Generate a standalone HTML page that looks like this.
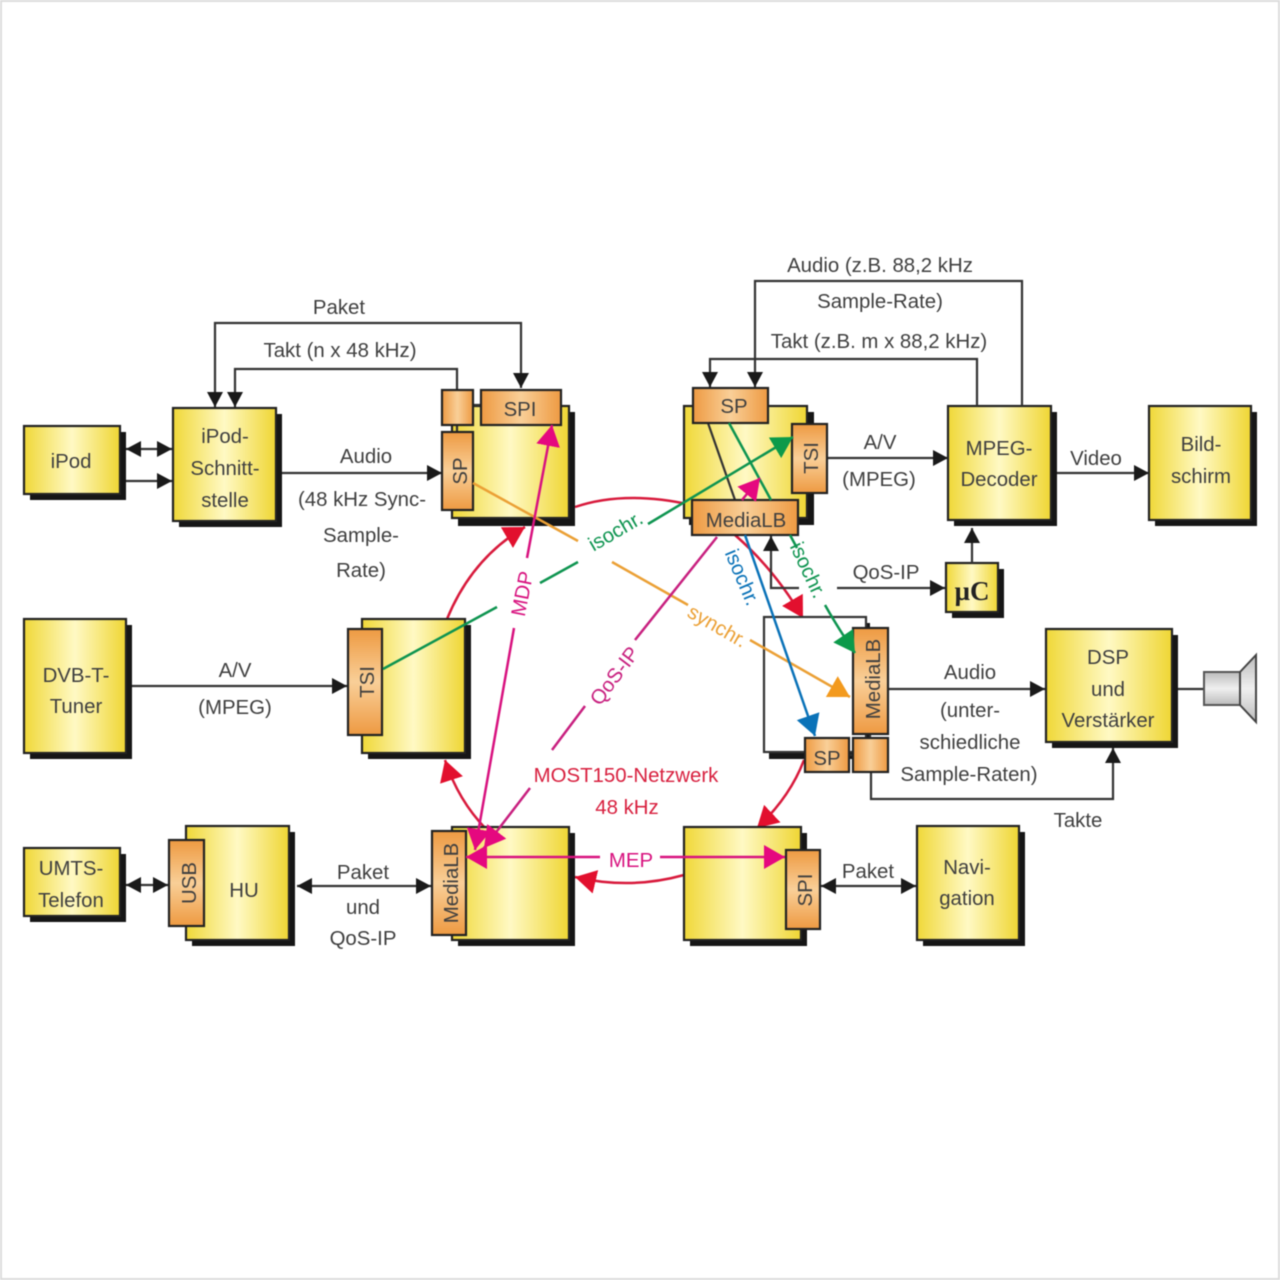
<!DOCTYPE html>
<html><head><meta charset="utf-8"><style>
html,body{margin:0;padding:0;background:#fff}
svg{display:block;filter:blur(.45px)}
text{font-family:"Liberation Sans",sans-serif;font-size:20.4px;fill:#3f3f3f;text-anchor:middle}
.b{stroke:#222;stroke-width:2.2}
.s{fill:#161616}
.l{fill:none;stroke:#333;stroke-width:2.2}
.c{fill:none;stroke-width:2.5}
</style></head><body>
<svg width="1280" height="1280" viewBox="0 0 1280 1280" xmlns="http://www.w3.org/2000/svg">
<defs>
<linearGradient id="y"><stop offset="0" stop-color="#f0d838"/><stop offset=".5" stop-color="#fff9c4"/><stop offset="1" stop-color="#efd633"/></linearGradient>
<linearGradient id="o"><stop offset="0" stop-color="#ee9a42"/><stop offset=".5" stop-color="#f9cf98"/><stop offset="1" stop-color="#ee9a42"/></linearGradient>
<linearGradient id="ov" x1="0" y1="0" x2="0" y2="1"><stop offset="0" stop-color="#ee9a42"/><stop offset=".5" stop-color="#f9cf98"/><stop offset="1" stop-color="#ee9a42"/></linearGradient>
<linearGradient id="g" x1="0" y1="0" x2="0" y2="1"><stop offset="0" stop-color="#bbb"/><stop offset=".5" stop-color="#f0f0f0"/><stop offset="1" stop-color="#bbb"/></linearGradient>
<marker id="k" markerUnits="userSpaceOnUse" markerWidth="18" markerHeight="18" refX="15" refY="8" orient="auto-start-reverse"><path d="M0 0L15 8L0 16Z" fill="#1a1a1a"/></marker>
<marker id="r" markerUnits="userSpaceOnUse" markerWidth="24" markerHeight="26" refX="21" refY="12" orient="auto-start-reverse"><path d="M0 0L21 12L0 24Z" fill="#e2102e"/></marker>
<marker id="m" markerUnits="userSpaceOnUse" markerWidth="24" markerHeight="26" refX="21" refY="12" orient="auto-start-reverse"><path d="M0 0L21 12L0 24Z" fill="#e5087f"/></marker>
<marker id="n" markerUnits="userSpaceOnUse" markerWidth="24" markerHeight="26" refX="21" refY="12" orient="auto-start-reverse"><path d="M0 0L21 12L0 24Z" fill="#0c9a4a"/></marker>
<marker id="u" markerUnits="userSpaceOnUse" markerWidth="24" markerHeight="26" refX="21" refY="12" orient="auto-start-reverse"><path d="M0 0L21 12L0 24Z" fill="#0a72b8"/></marker>
<marker id="a" markerUnits="userSpaceOnUse" markerWidth="24" markerHeight="26" refX="21" refY="12" orient="auto-start-reverse"><path d="M0 0L21 12L0 24Z" fill="#f39a1e"/></marker>
</defs>
<rect width="1280" height="1280" fill="#fff"/>
<rect x="1" y="1" width="1278" height="1278" fill="none" stroke="#dcdcdc" stroke-width="2"/>

<!-- red ring -->
<g class="c" stroke="#d81a3c">
<path d="M447 619Q472 558 525 527" marker-end="url(#r)"/>
<path d="M575 507Q625 490 692 505"/>
<path d="M735 535Q775 570 803 618" marker-end="url(#r)"/>
<path d="M804 760Q790 797 757 828" marker-end="url(#r)"/>
<path d="M684 875Q630 890 575 877" marker-end="url(#r)"/>
<path d="M486 829Q458 800 445 760" marker-end="url(#r)"/>
</g>

<!-- shadows -->
<g class="s">
<rect x="30" y="432" width="96" height="68"/><rect x="179" y="414" width="103" height="113"/>
<rect x="458" y="412" width="117" height="114"/><rect x="689" y="412" width="125" height="113"/>
<rect x="954" y="412" width="103" height="114"/><rect x="1155" y="412" width="102" height="114"/>
<rect x="952" y="569" width="52" height="49"/><rect x="30" y="625" width="102" height="134"/>
<rect x="368" y="625" width="103" height="134"/><rect x="769" y="623" width="101" height="136"/>
<rect x="1052" y="635" width="126" height="113"/><rect x="30" y="854" width="96" height="68"/>
<rect x="192" y="832" width="103" height="114"/><rect x="458" y="833" width="117" height="113"/>
<rect x="690" y="833" width="117" height="113"/><rect x="923" y="832" width="102" height="114"/>
</g>

<!-- yellow boxes -->
<g class="b" fill="url(#y)">
<rect x="24" y="426" width="96" height="68"/><rect x="173" y="408" width="103" height="113"/>
<rect x="452" y="406" width="117" height="112"/><rect x="684" y="406" width="123" height="112"/>
<rect x="948" y="406" width="103" height="114"/><rect x="1149" y="406" width="102" height="114"/>
<rect x="946" y="563" width="52" height="49"/><rect x="24" y="619" width="102" height="134"/>
<rect x="362" y="619" width="103" height="134"/>
<rect x="1046" y="629" width="126" height="113"/><rect x="24" y="848" width="96" height="68"/>
<rect x="186" y="826" width="103" height="114"/><rect x="452" y="827" width="117" height="113"/>
<rect x="684" y="827" width="117" height="113"/><rect x="917" y="826" width="102" height="114"/>
</g>
<rect x="764" y="617" width="102" height="135" fill="#fff" stroke="#333" stroke-width="2.2"/>

<!-- speaker -->
<path d="M1178 689H1204" class="l"/>
<rect x="1204" y="672" width="36" height="33" fill="url(#g)" stroke="#555" stroke-width="2"/>
<path d="M1240 672L1256 655V722L1240 705Z" fill="url(#g)" stroke="#444" stroke-width="2"/>

<!-- black connectors -->
<g class="l">
<path d="M126 449H172" marker-start="url(#k)" marker-end="url(#k)"/>
<path d="M126 481H172" marker-end="url(#k)"/>
<path d="M282 473H442" marker-end="url(#k)"/>
<path d="M521 388V323H215V407" marker-start="url(#k)" marker-end="url(#k)"/>
<path d="M457 390V369H235V407" marker-end="url(#k)"/>
<path d="M132 686H347" marker-end="url(#k)"/>
<path d="M297 886H431" marker-start="url(#k)" marker-end="url(#k)"/>
<path d="M126 885H168" marker-start="url(#k)" marker-end="url(#k)"/>
<path d="M821 886H916" marker-start="url(#k)" marker-end="url(#k)"/>
<path d="M827 458H948" marker-end="url(#k)"/>
<path d="M1057 473H1149" marker-end="url(#k)"/>
<path d="M1022 406V281H755V387" marker-end="url(#k)"/>
<path d="M977 406V359H710V387" marker-end="url(#k)"/>
<path d="M972 563V528" marker-end="url(#k)"/>
<path d="M837 588H945" marker-end="url(#k)"/>
<path d="M799 588H771V536" marker-end="url(#k)"/>
<path d="M887 689H1045" marker-end="url(#k)"/>
<path d="M871 772V799H1113V748" marker-end="url(#k)"/>
<path d="M708 423L735 500"/>
<path d="M473 405H481M457 425V432M870 734V738M849 755H853"/>
</g>

<!-- orange blocks -->
<g class="b">
<rect x="442" y="390" width="31" height="35" fill="url(#o)"/>
<rect x="481" y="390" width="80" height="35" fill="url(#o)"/>
<rect x="442" y="432" width="31" height="78" fill="url(#ov)"/>
<rect x="693" y="388" width="75" height="35" fill="url(#o)"/>
<rect x="792" y="424" width="35" height="69" fill="url(#ov)"/>
<rect x="692" y="500" width="106" height="35" fill="url(#o)"/>
<rect x="348" y="629" width="34" height="106" fill="url(#ov)"/>
<rect x="853" y="628" width="35" height="106" fill="url(#ov)"/>
<rect x="805" y="738" width="44" height="34" fill="url(#o)"/>
<rect x="853" y="738" width="35" height="34" fill="url(#o)"/>
<rect x="169" y="840" width="35" height="86" fill="url(#ov)"/>
<rect x="432" y="831" width="34" height="104" fill="url(#ov)"/>
<rect x="786" y="850" width="34" height="79" fill="url(#ov)"/>
</g>

<!-- orange line -->
<g class="c" stroke="#eba035">
<path d="M473 483L578 541"/><path d="M612 562L688 605"/><path d="M750 640L850 697" marker-end="url(#a)"/>
</g>
<!-- green -->
<g class="c" stroke="#0e9450">
<path d="M383 669L497 607"/><path d="M540 583L578 562"/><path d="M648 524L793 437" marker-end="url(#n)"/>
<path d="M729 423L771 500"/><path d="M790 535L797 548"/><path d="M825 605Q838 628 855 653" marker-end="url(#n)"/>
</g>
<!-- blue -->
<path d="M745 535L815 736" class="c" stroke="#0a72b8" marker-end="url(#u)"/>
<!-- magenta -->
<g class="c" stroke="#d8127f">
<path d="M552 425L527 558" marker-start="url(#m)"/>
<path d="M514 628L475 850" marker-end="url(#m)"/>
<path d="M466 857H600" marker-start="url(#m)"/>
<path d="M660 857H785" marker-end="url(#m)"/>
<path d="M717 537L635 640" stroke="#c8207f"/>
<path d="M585 706L552 750" stroke="#c8207f"/>
<path d="M530 788L484 848" stroke="#c8207f" marker-end="url(#m)"/>
<path d="M742 500L760 478" marker-end="url(#m)"/>
</g>

<!-- labels -->
<text x="339" y="314">Paket</text>
<text x="340" y="357">Takt (n x 48 kHz)</text>
<text x="366" y="463">Audio</text>
<text x="362" y="506">(48 kHz Sync-</text>
<text x="361" y="542">Sample-</text>
<text x="361" y="577">Rate)</text>
<text x="71" y="468">iPod</text>
<text x="225" y="443">iPod-</text>
<text x="225" y="475">Schnitt-</text>
<text x="225" y="507">stelle</text>
<text x="520" y="416">SPI</text>
<text transform="translate(467 471) rotate(-90)">SP</text>
<text x="734" y="413">SP</text>
<text x="746" y="527">MediaLB</text>
<text transform="translate(818 458) rotate(-90)">TSI</text>
<text x="880" y="272">Audio (z.B. 88,2 kHz</text>
<text x="880" y="308">Sample-Rate)</text>
<text x="879" y="348">Takt (z.B. m x 88,2 kHz)</text>
<text x="880" y="449">A/V</text>
<text x="879" y="486">(MPEG)</text>
<text x="999" y="455">MPEG-</text>
<text x="999" y="486">Decoder</text>
<text x="1096" y="465">Video</text>
<text x="1201" y="451">Bild-</text>
<text x="1201" y="483">schirm</text>
<text x="886" y="579">QoS-IP</text>
<text x="972" y="600" style="font-family:'Liberation Serif',serif;font-size:27px;font-weight:bold;fill:#222">µC</text>
<text x="76" y="682">DVB-T-</text>
<text x="76" y="713">Tuner</text>
<text x="235" y="677">A/V</text>
<text x="235" y="714">(MPEG)</text>
<text transform="translate(374 682) rotate(-90)">TSI</text>
<text transform="translate(880 679) rotate(-90)">MediaLB</text>
<text x="827" y="765">SP</text>
<text x="970" y="679">Audio</text>
<text x="970" y="717">(unter-</text>
<text x="970" y="749">schiedliche</text>
<text x="969" y="781">Sample-Raten)</text>
<text x="1078" y="827">Takte</text>
<text x="1108" y="664">DSP</text>
<text x="1108" y="696">und</text>
<text x="1108" y="727">Verstärker</text>
<text x="71" y="875">UMTS-</text>
<text x="71" y="907">Telefon</text>
<text transform="translate(196 883) rotate(-90)">USB</text>
<text x="244" y="897">HU</text>
<text x="363" y="879">Paket</text>
<text x="363" y="914">und</text>
<text x="363" y="945">QoS-IP</text>
<text transform="translate(458 883) rotate(-90)">MediaLB</text>
<text transform="translate(812 890) rotate(-90)">SPI</text>
<text x="868" y="878">Paket</text>
<text x="967" y="874">Navi-</text>
<text x="967" y="905">gation</text>
<text x="626" y="782" style="fill:#d8203f">MOST150-Netzwerk</text>
<text x="627" y="814" style="fill:#d8203f">48 kHz</text>
<text x="631" y="867" style="fill:#d8127f">MEP</text>
<text transform="translate(529 595) rotate(-79)" style="fill:#d8127f">MDP</text>
<text transform="translate(620 680) rotate(-53)" style="fill:#c8207f">QoS-IP</text>
<text transform="translate(619 537) rotate(-30)" style="fill:#0e9450">isochr.</text>
<text transform="translate(736 580) rotate(67)" style="fill:#0a72b8">isochr.</text>
<text transform="translate(802 573) rotate(65)" style="fill:#0e9450">isochr.</text>
<text transform="translate(714 632) rotate(30)" style="fill:#eba035">synchr.</text>
</svg>
</body></html>
